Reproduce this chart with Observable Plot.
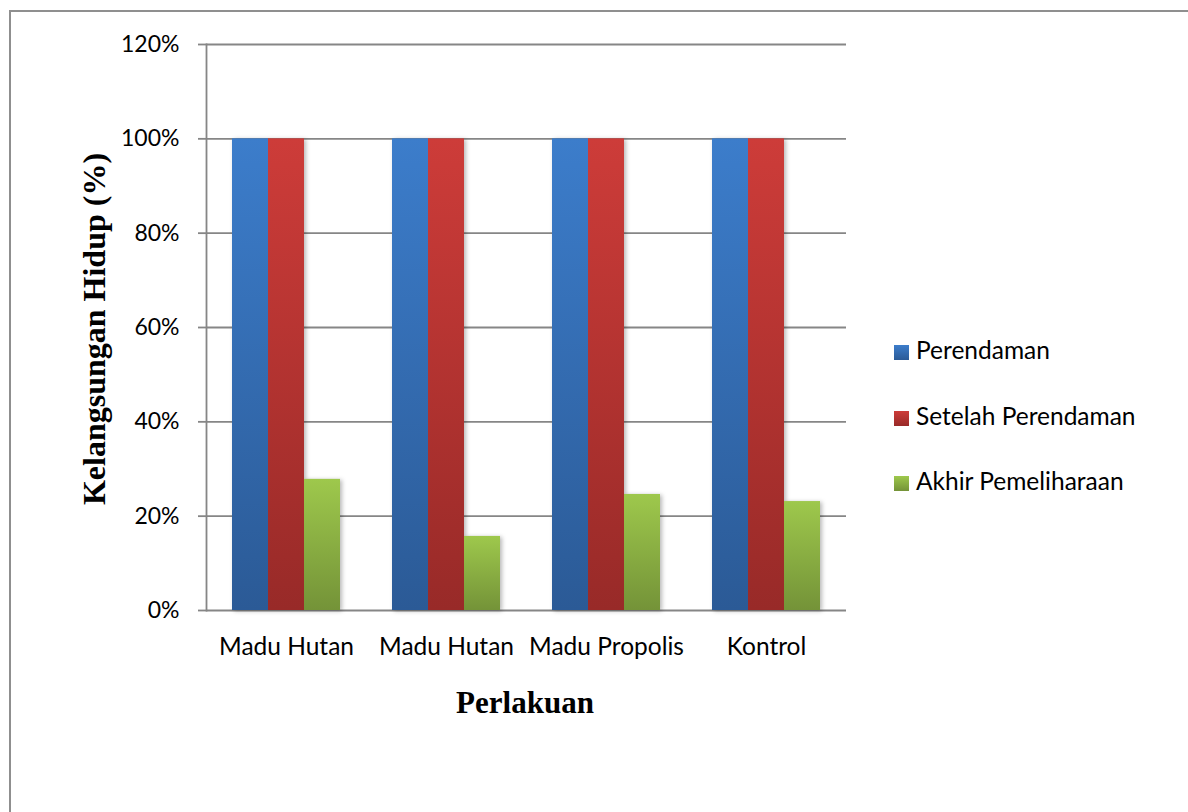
<!DOCTYPE html>
<html>
<head>
<meta charset="utf-8">
<script src="https://cdn.jsdelivr.net/npm/d3@7"></script>
<script src="https://cdn.jsdelivr.net/npm/@observablehq/plot@0.6"></script>
<style>
  html, body { margin: 0; padding: 0; background: #fff; }
  #wrap { position: relative; width: 1188px; height: 812px; overflow: hidden; background: #fff; }
  #chart { position: absolute; left: 0; top: 0; }
  #border { position: absolute; left: 9px; top: 10px; width: 1300px; height: 900px;
            border-top: 2px solid #8f8f8f; border-left: 2px solid #8f8f8f; }
  .ytitle { position: absolute; left: -106px; top: 309px; width: 400px; height: 40px; line-height: 40px;
            text-align: center; transform: rotate(-90deg); font-family: "Liberation Serif", serif;
            font-weight: bold; font-size: 32px; color: #000; }
  .xtitle { position: absolute; left: 325px; top: 683px; width: 400px; height: 40px; line-height: 40px;
            text-align: center; font-family: "Liberation Serif", serif; font-weight: bold; font-size: 31px; color: #000; }
  #legend { position: absolute; left: 894px; top: 330px; font-family: "Lato", sans-serif; font-size: 24.5px; color: #000; }
  .item { position: absolute; left: 0; height: 40px; line-height: 40px; white-space: nowrap; }
  .sw { display: inline-block; width: 15px; height: 15px; margin-right: 7px; vertical-align: -1px; }
</style>
</head>
<body>
<div id="wrap">
  <div id="border"></div>
  <div id="chart"></div>
  <div class="ytitle">Kelangsungan Hidup (%)</div>
  <div class="xtitle">Perlakuan</div>
  <div id="legend"></div>
</div>
<script>
// ---- data ----
const categories = ["Madu Hutan", "Madu Hutan", "Madu Propolis", "Kontrol"];
const series = ["Perendaman", "Setelah Perendaman", "Akhir Pemeliharaan"];
const perendaman = [100, 100, 100, 100];
const setelahPerendaman = [100, 100, 100, 100];
const akhirPemeliharaan = [27.8, 15.7, 24.6, 23.1];
const yTicks = [0, 20, 40, 60, 80, 100, 120];

// ---- styles ----
const gradients = [
  {id: "gBlue", top: "#3c7dcb", bottom: "#2b5a96"},
  {id: "gRed", top: "#cd3c39", bottom: "#982a28"},
  {id: "gGreen", top: "#9ec84c", bottom: "#749338"}
];
const gray = "#868686";

const seriesValues = [perendaman, setelahPerendaman, akhirPemeliharaan];
const rows = [];
categories.forEach((c, i) => {
  series.forEach((s, j) => rows.push({cat: i, series: s, value: seriesValues[j][i]}));
});

const chart = Plot.plot({
  width: 1188,
  height: 812,
  marginLeft: 205,
  marginRight: 342,
  marginTop: 44,
  marginBottom: 202,
  style: {fontFamily: "Lato, sans-serif", background: "transparent", color: "#000"},
  fx: {domain: categories.map((c, i) => i), padding: 0, label: null},
  x: {domain: series, paddingInner: 0, paddingOuter: 0.722, axis: null},
  y: {domain: [0, 120], label: null},
  color: {domain: series, range: gradients.map(g => `url(#${g.id})`)},
  marks: [
    Plot.ruleY(yTicks, {stroke: gray, strokeWidth: 1.8}),
    Plot.barY(rows, {fx: "cat", x: "series", y: "value", fill: "series"}),
    Plot.frame({anchor: "left", facetAnchor: "left", stroke: gray, strokeWidth: 1.8}),
    Plot.axisY({ticks: yTicks, tickSize: 8, tickPadding: 19, tickFormat: d => d + "%",
                fontSize: 23, stroke: gray, strokeWidth: 1.8, label: null}),
    Plot.axisFx({anchor: "bottom", tickSize: 0, tickPadding: 27, tickFormat: i => categories[i],
                 fontSize: 24.5, label: null})
  ]
});

const svg = d3.select(chart);
const defs = svg.insert("defs", ":first-child");
gradients.forEach(g => {
  const lg = defs.append("linearGradient").attr("id", g.id)
    .attr("x1", 0).attr("y1", 0).attr("x2", 0).attr("y2", 1);
  lg.append("stop").attr("offset", "0%").attr("stop-color", g.top);
  lg.append("stop").attr("offset", "100%").attr("stop-color", g.bottom);
});
svg.selectAll('g[aria-label="bar"]').style("filter", "drop-shadow(2px 1px 2px rgba(0,0,0,0.28))");
document.getElementById("chart").appendChild(chart);

// legend
const legend = d3.select("#legend");
series.forEach((s, j) => {
  const g = gradients[j];
  const it = legend.append("div").attr("class", "item").style("top", (j * 65.5) + "px");
  it.append("span").attr("class", "sw")
    .style("background", `linear-gradient(to bottom, ${g.top}, ${g.bottom})`);
  it.append("span").text(s);
});
</script>
</body>
</html>
